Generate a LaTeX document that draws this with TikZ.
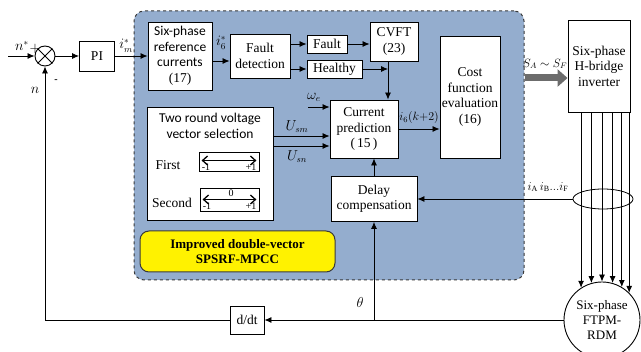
\documentclass[tikz,border=0pt]{standalone}
\usepackage{fontspec}
\setmainfont{Liberation Serif}
\newfontfamily\calfont{Carlito}
\usepackage{tikz}
\usetikzlibrary{positioning,arrows.meta,shapes.geometric}

\definecolor{groupblue}{HTML}{94ADCE}

\begin{document}
\begin{tikzpicture}[x=1pt,y=-1pt,
font=\fontsize{13.5}{15.5}\selectfont,
box/.style={draw, line width=0.9pt, fill=white, align=center, inner sep=1pt},
arrow/.style={-{Latex[length=7pt,width=6pt]}, line width=0.8pt},
sarrow/.style={-{Triangle[length=10pt,width=17pt]}, line width=7pt, draw=gray!85!black},
vecarrow/.style={{Straight Barb[length=5pt,width=9pt]}-{Straight Barb[length=5pt,width=9pt]}, line width=1.3pt},
lbl/.style={inner sep=0pt},
small/.style={inner sep=0pt, font=\fontsize{12}{13}\selectfont},
tiny/.style={font=\fontsize{10}{11}\selectfont, inner sep=0pt}
]
\useasboundingbox (0,0) rectangle (641,352);

% controller area
\node[draw=gray!45!black, dashed, line width=1pt, fill=groupblue, rounded corners=10pt,
  minimum width=390pt, minimum height=269pt] (mpcc) at (329,145.5) {};

\node[box, circle, minimum size=20pt, inner sep=0pt] (sum) at (45,56) {};
\draw[line width=0.8pt] (sum.45) -- (sum.225) (sum.135) -- (sum.315);
\node[box, minimum width=35pt, minimum height=30pt] (pi) at (97,56) {PI};
\node[box, minimum width=64pt, minimum height=68pt] (ref) at (180,56)
  {{\calfont Six-phase}\\{\calfont reference}\\{\calfont currents}\\(17)};
\node[box, minimum width=60pt, minimum height=44pt] (fdet) at (260,56) {Fault\\detection};
\node[box, minimum width=40pt, minimum height=18pt] (fault) at (327,44) {Fault};
\node[box, minimum width=55pt, minimum height=18pt] (healthy) at (334.5,69) {Healthy};
\node[box, minimum width=48pt, minimum height=39pt] (cvft) at (394,41.5) {CVFT\\(23)};
\node[box, minimum width=68pt, minimum height=58pt] (pred) at (364,129) {Current\\prediction\\(\,15\,)};
\node[box, minimum width=60pt, minimum height=122pt] (cost) at (470,97) {Cost\\function\\evaluation\\(16)};
\node[box, minimum width=62pt, minimum height=92pt] (inv) at (599,66) {Six-phase\\H-bridge\\inverter};

% voltage vector selection
\node[box, minimum width=126pt, minimum height=113pt] (vsel) at (210,163.5) {};
\node[inner sep=0pt, font=\calfont\fontsize{13.5}{16}\selectfont, align=center, below=6pt of vsel.north] (vseltxt)
  {Two round voltage\\vector selection};
\node[inner sep=0pt] (first) at (168,165) {First};
\node[inner sep=0pt] (second) at (172,203) {Second};
\node[draw, line width=0.8pt, minimum width=60pt, minimum height=19pt] (fbox) at (229,161.5) {};
\node[draw, line width=0.8pt, minimum width=59pt, minimum height=23pt] (sbox) at (229.5,199.5) {};
\draw[vecarrow] ([xshift=3pt,yshift=1pt]fbox.west) -- ([xshift=-3pt,yshift=1pt]fbox.east);
\draw[vecarrow] ([xshift=3pt]sbox.west) -- ([xshift=-3pt]sbox.east);
\node[tiny] at (206,167) {-1};
\node[tiny] at (251,167) {+1};
\node[tiny] at (231,193) {0};
\node[tiny] at (207,206) {-1};
\node[tiny] at (251,206) {+1};

\node[box, minimum width=86pt, minimum height=45pt] (delay) at (374,199) {Delay\\compensation};
\node[draw=gray!45!black, line width=1pt, fill=yellow, rounded corners=9pt, minimum width=195pt,
  minimum height=41pt, align=center, font=\bfseries\fontsize{13}{15}\selectfont] (title) at (237.5,251.5)
  {Improved double-vector\\SPSRF-MPCC};

\node[box, minimum width=34pt, minimum height=28pt] (ddt) at (247,320) {d/dt};
\node[box, circle, minimum size=76pt, inner sep=0pt, font=\fontsize{13}{15}\selectfont] (motor) at (602,320)
  {Six-phase\\FTPM-\\RDM};
\node[draw, ellipse, line width=0.8pt, minimum width=60pt, minimum height=20pt] (isense) at (603,199) {};

% connectors
\coordinate (nin) at (8,56);
\draw[arrow] (nin) -- (sum.west);
\draw[arrow] (sum) -- (pi);
\draw[arrow] (pi) -- (ref);
\draw[arrow] ([yshift=-5pt]ref.east) -- ([yshift=-5pt]fdet.west);
\draw[arrow] (fdet.east |- fault) -- (fault.west);
\draw[arrow] (fdet.east |- healthy) -- (healthy.west);
\draw[arrow] (fault) -- (cvft.west |- fault);
\coordinate (hj) at (388,69);
\draw[arrow] (healthy.east) -- (hj);
\draw[arrow] (cvft.south -| hj) -- (pred.north -| hj);
\coordinate (we) at (308,107);
\draw[arrow] (we) -- (pred.west |- we);
\coordinate (usm) at (300,136);
\coordinate (usn) at (300,146);
\draw[arrow] (vsel.east |- usm) -- (pred.west |- usm);
\draw[arrow] (vsel.east |- usn) -- (pred.west |- usn);
\draw[arrow] (pred.east) -- (cost.west |- pred.east);
\draw[arrow] (delay.north) -- (pred.south -| delay.north);
\draw[arrow] (isense.west) -- (delay.east |- isense.west);
\coordinate (sj) at (524,78);
\draw[sarrow] (mpcc.east |- sj) -- (inv.west |- sj);
\foreach \a in {123,106,90,74,59,45}
  \draw[arrow] (motor.\a |- inv.south) -- (motor.\a);
\coordinate (tj) at (delay.south |- ddt.east);
\draw[arrow] (motor.west) -- (ddt.east);
\draw[arrow] (tj) -- (delay.south);
\draw[arrow] (ddt.west) -| (sum.south);

% labels
\node[lbl] at (22,46) {$n^{*}$};
\node[lbl] at (35,49) {$+$};
\node[lbl, font=\bfseries] at (56,81) {-};
\node[lbl] at (35,90) {$n$};
\node[lbl] at (126,46) {$i_m^{*}$};
\node[lbl] at (221,43) {$i_6^{*}$};
\node[lbl] at (314,97) {$\omega_e$};
\node[lbl] at (297,127) {$U_{sm}$};
\node[lbl] at (297,157) {$U_{sn}$};
\node[small] at (419,118) {$i_6(k{+}2)$};
\node[small] at (545,64) {$S_A\sim S_F$};
\node[small] at (548,187) {$i_{\mathrm{A}}\,i_{\mathrm{B}}...i_{\mathrm{F}}$};
\node[lbl] at (360,303) {$\theta$};
\end{tikzpicture}
\end{document}
